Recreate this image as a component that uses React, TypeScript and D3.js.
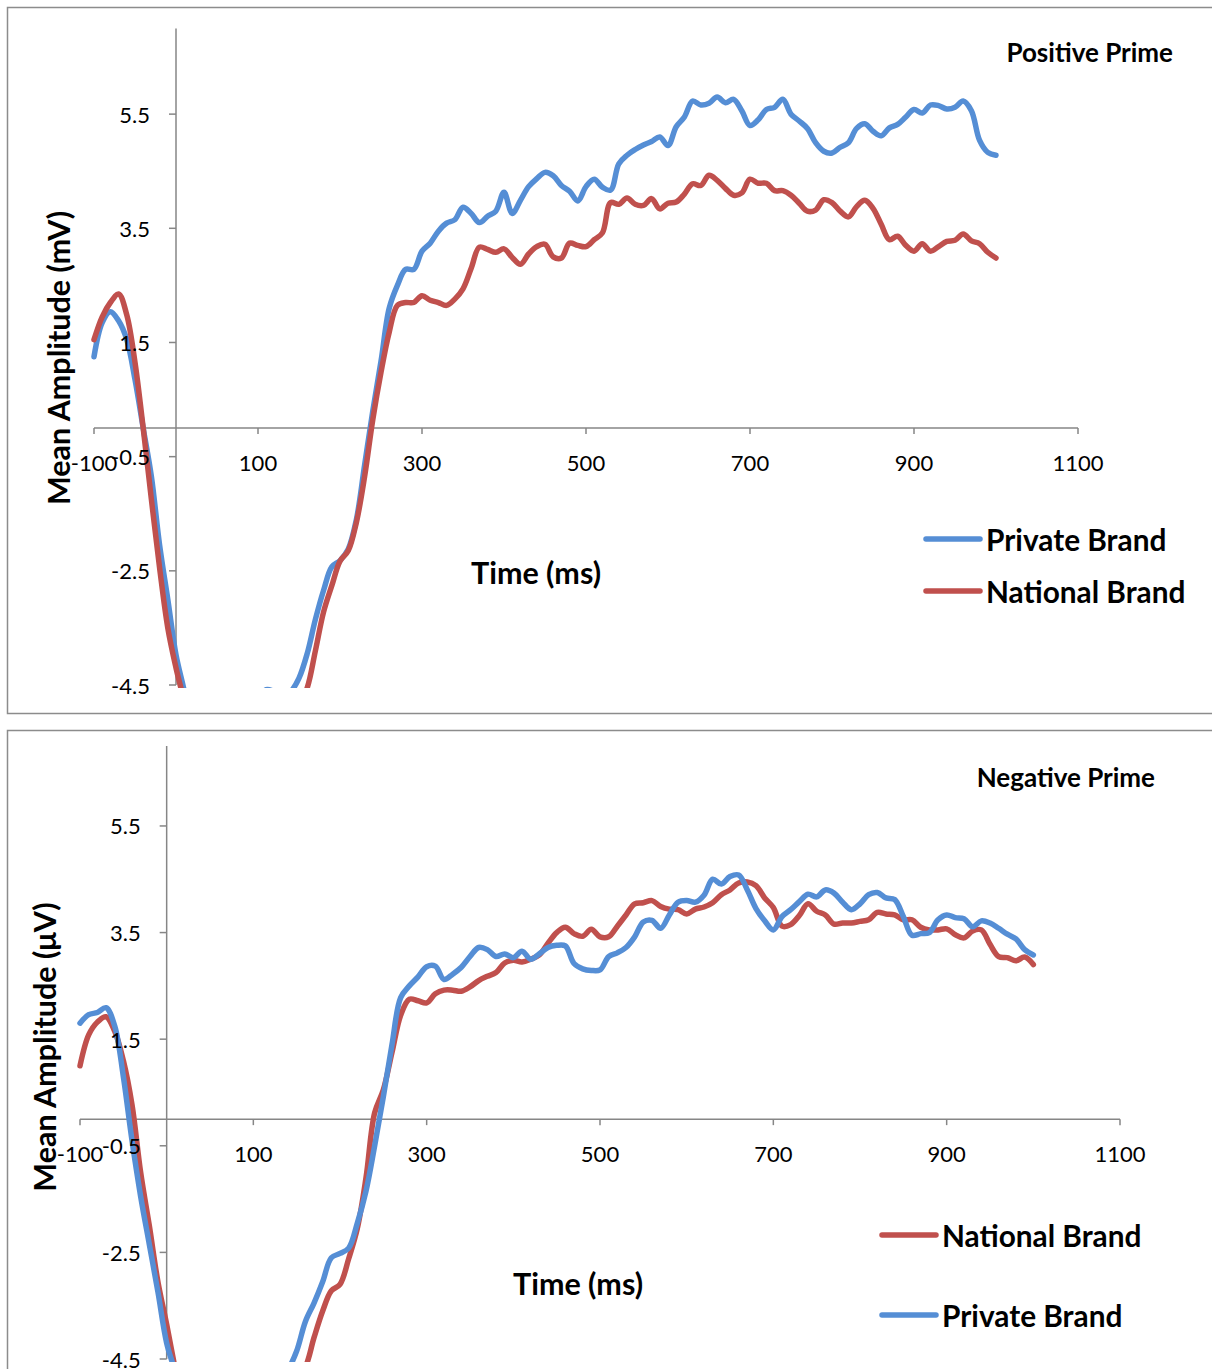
import * as d3 from "d3";

// sample times (ms), one value every 10 ms
const times = d3.range(-100, 1001, 10);

// Positive prime
const posPrivate = [
  1.25, 1.85, 2.04, 1.88, 1.55, 0.85, 0.0, -0.85, -2.05, -3.0,
  -3.97, -4.6, -5.3, -5.9, -6.2, -6.3, -6.1, -5.7, -5.3, -5.0,
  -4.8, -4.58, -4.62, -4.75, -4.62, -4.38, -3.95, -3.35, -2.84, -2.43,
  -2.32, -2.12, -1.6, -0.65, 0.3, 1.17, 2.1, 2.5, 2.78, 2.78,
  3.1, 3.24, 3.45, 3.59, 3.65, 3.87, 3.76, 3.6, 3.71, 3.8,
  4.13, 3.76, 3.99, 4.23, 4.37, 4.48, 4.42, 4.25, 4.15, 3.98,
  4.23, 4.36, 4.22, 4.17, 4.63, 4.78, 4.88, 4.96, 5.02, 5.1,
  4.95, 5.28, 5.45, 5.73, 5.66, 5.69, 5.8, 5.7, 5.76, 5.56,
  5.3, 5.4, 5.58, 5.62, 5.76, 5.5, 5.38, 5.25, 5.0, 4.85,
  4.82, 4.92, 5.0, 5.25, 5.33, 5.2, 5.12, 5.26, 5.32, 5.45,
  5.58, 5.52, 5.66, 5.65, 5.59, 5.62, 5.73, 5.56, 5.04, 4.83,
  4.78,
];
const posNational = [
  1.55, 1.95, 2.2, 2.35, 1.98, 1.15, 0.0, -1.25, -2.45, -3.5,
  -4.2, -4.8, -5.6, -6.2, -6.6, -6.8, -6.7, -6.4, -6.0, -5.7,
  -5.5, -5.3, -5.2, -5.1, -5.0, -4.85, -4.55, -3.9, -3.22, -2.76,
  -2.33, -2.15, -1.65, -0.85, 0.15, 0.98, 1.68, 2.15, 2.2, 2.2,
  2.32, 2.24, 2.2, 2.15, 2.26, 2.44, 2.8, 3.17, 3.13, 3.08,
  3.14, 2.99, 2.87, 3.05, 3.18, 3.22, 3.0, 2.98, 3.24, 3.2,
  3.18, 3.3, 3.42, 3.95, 3.92, 4.03, 3.92, 3.9, 4.02, 3.84,
  3.94, 3.96, 4.1, 4.28, 4.25, 4.43, 4.34, 4.2, 4.08, 4.12,
  4.36, 4.29, 4.29, 4.16, 4.16, 4.08, 3.94, 3.8, 3.82, 4.0,
  3.95, 3.8, 3.7, 3.88, 3.99, 3.85, 3.57, 3.3, 3.36, 3.2,
  3.1, 3.23, 3.1, 3.18, 3.27, 3.29, 3.4, 3.28, 3.23, 3.08,
  2.98,
];

// Negative prime
const negNational = [
  1.0, 1.58, 1.82, 1.92, 1.65, 1.1, 0.27, -1.0, -2.0, -3.06,
  -3.85, -4.7, -5.5, -6.0, -6.4, -6.6, -6.6, -6.4, -6.1, -5.8,
  -5.6, -5.4, -5.3, -5.1, -5.0, -4.85, -4.65, -4.1, -3.6, -3.22,
  -3.1, -2.62, -2.05, -1.1, 0.12, 0.55, 1.25, 1.95, 2.25, 2.22,
  2.18, 2.35, 2.42, 2.42, 2.4, 2.48, 2.6, 2.68, 2.75, 2.93,
  2.98, 2.95, 3.0, 3.08, 3.3, 3.5, 3.6, 3.48, 3.43, 3.56,
  3.42, 3.42, 3.62, 3.83, 4.04, 4.06, 4.1, 3.99, 3.94, 3.93,
  3.85, 3.94, 3.98, 4.06, 4.21, 4.3, 4.43, 4.45, 4.38, 4.15,
  3.97, 3.62, 3.65, 3.82, 4.04, 3.9, 3.83, 3.66, 3.68, 3.68,
  3.71, 3.74, 3.88, 3.85, 3.83, 3.74, 3.74, 3.6, 3.55, 3.55,
  3.57, 3.46, 3.4, 3.53, 3.55, 3.28, 3.05, 3.03, 2.97, 3.04,
  2.9,
];
const negPrivate = [
  1.8, 1.96, 2.0, 2.09, 1.75, 0.8, -0.4, -1.45, -2.35, -3.25,
  -4.2, -4.75, -5.4, -5.9, -6.3, -6.5, -6.5, -6.3, -6.0, -5.7,
  -5.4, -5.2, -5.0, -4.9, -4.7, -4.35, -3.8, -3.45, -3.05, -2.6,
  -2.52, -2.42, -1.95, -1.35, -0.5, 0.42, 1.4, 2.28, 2.5, 2.67,
  2.86, 2.87, 2.62, 2.72, 2.85, 3.05, 3.22, 3.18, 3.05, 3.1,
  3.03, 3.15, 3.0, 3.1, 3.22, 3.26, 3.25, 2.92, 2.82, 2.79,
  2.8, 3.05, 3.12, 3.22, 3.42, 3.7, 3.73, 3.58, 3.83, 4.07,
  4.1, 4.07, 4.2, 4.5, 4.41, 4.55, 4.58, 4.3, 3.95, 3.72,
  3.55, 3.8, 3.93, 4.08, 4.22, 4.17, 4.3, 4.24, 4.07, 3.93,
  4.04, 4.21, 4.25, 4.15, 4.12, 3.8, 3.45, 3.48, 3.5, 3.74,
  3.83, 3.78, 3.76, 3.61, 3.72, 3.68, 3.58, 3.47, 3.38, 3.18,
  3.08,
];

const xTicks = [-100, 100, 300, 500, 700, 900, 1100];
const yTicks = [-4.5, -2.5, -0.5, 1.5, 3.5, 5.5];

const BLUE = "#558ed5";
const RED = "#c0504d";
const AXIS = "#868686";
const FONT = "Lato, 'DejaVu Sans', sans-serif";

type Series = { name: string; values: number[]; color: string };

type PanelProps = {
  id: string;
  frameTop: number;
  frameBottom: number;
  xRange: [number, number];
  yRange: [number, number];
  title: string;
  titleX: number;
  titleY: number;
  yTitle: string;
  yTitleX: number;
  yTitleY: number;
  xTitleX: number;
  xTitleY: number;
  legendX: number;
  legendY: number[];
  legendOrder: Series[];
  drawOrder: Series[];
};

function Panel(p: PanelProps) {
  const x = d3.scaleLinear().domain([-100, 1100]).range(p.xRange);
  const y = d3.scaleLinear().domain([-4.5, 7]).range(p.yRange);
  const line = d3
    .line<number>()
    .x((_, i) => x(times[i]))
    .y((d) => y(d))
    .curve(d3.curveCatmullRom.alpha(0.5));
  const x0 = x(0);
  const y0 = y(0);

  return (
    <g>
      <rect
        x={7.5}
        y={p.frameTop}
        width={1215}
        height={p.frameBottom - p.frameTop}
        fill="#fff"
        stroke="#8c8c8c"
        strokeWidth={1.5}
      />
      <clipPath id={p.id}>
        <rect
          x={x(-100) - 3}
          y={y(7)}
          width={x(1100) - x(-100) + 6}
          height={y(-4.5) - y(7) + 3}
        />
      </clipPath>

      {/* axis lines and ticks */}
      <line x1={x0} x2={x0} y1={y(7)} y2={y(-4.5)} stroke={AXIS} strokeWidth={1.5} />
      {yTicks.map((t) => (
        <line key={t} x1={x0 - 7} x2={x0} y1={y(t)} y2={y(t)} stroke={AXIS} strokeWidth={1.5} />
      ))}
      <line x1={x(-100)} x2={x(1100)} y1={y0} y2={y0} stroke={AXIS} strokeWidth={1.5} />
      {xTicks.map((t) => (
        <line key={t} x1={x(t)} x2={x(t)} y1={y0} y2={y0 + 6} stroke={AXIS} strokeWidth={1.5} />
      ))}

      {/* series */}
      <g clipPath={`url(#${p.id})`}>
        {p.drawOrder.map((s) => (
          <path
            key={s.name}
            d={line(s.values) || ""}
            fill="none"
            stroke={s.color}
            strokeWidth={5.5}
            strokeLinejoin="round"
            strokeLinecap="round"
          />
        ))}
      </g>

      {/* tick labels sit above the lines */}
      {yTicks.map((t) => (
        <text
          key={t}
          x={x0 - 26}
          y={y(t)}
          textAnchor="end"
          dominantBaseline="central"
          fontSize={22}
          fontFamily={FONT}
          fill="#000"
        >
          {t}
        </text>
      ))}
      {xTicks.map((t) => (
        <text
          key={t}
          x={x(t)}
          y={y0 + 34}
          textAnchor="middle"
          dominantBaseline="central"
          fontSize={22}
          fontFamily={FONT}
          fill="#000"
        >
          {t}
        </text>
      ))}

      {/* titles */}
      <text
        x={p.titleX}
        y={p.titleY}
        textAnchor="end"
        dominantBaseline="central"
        fontSize={26}
        fontWeight="bold"
        fontFamily={FONT}
      >
        {p.title}
      </text>
      <text
        transform={`translate(${p.yTitleX},${p.yTitleY}) rotate(-90)`}
        textAnchor="middle"
        dominantBaseline="central"
        fontSize={30.5}
        fontWeight="bold"
        fontFamily={FONT}
      >
        {p.yTitle}
      </text>
      <text
        x={p.xTitleX}
        y={p.xTitleY}
        textAnchor="middle"
        dominantBaseline="central"
        fontSize={30.5}
        fontWeight="bold"
        fontFamily={FONT}
      >
        Time (ms)
      </text>

      {/* legend */}
      {p.legendOrder.map((s, i) => (
        <g key={s.name}>
          <line
            x1={p.legendX}
            x2={p.legendX + 54}
            y1={p.legendY[i]}
            y2={p.legendY[i]}
            stroke={s.color}
            strokeWidth={5.5}
            strokeLinecap="round"
          />
          <text
            x={p.legendX + 60}
            y={p.legendY[i]}
            dominantBaseline="central"
            fontSize={29.8}
            fontWeight="bold"
            fontFamily={FONT}
          >
            {s.name}
          </text>
        </g>
      ))}
    </g>
  );
}

export default function App() {
  const pPriv = { name: "Private Brand", values: posPrivate, color: BLUE };
  const pNat = { name: "National Brand", values: posNational, color: RED };
  const nPriv = { name: "Private Brand", values: negPrivate, color: BLUE };
  const nNat = { name: "National Brand", values: negNational, color: RED };

  return (
    <svg
      width={1212}
      height={1369}
      style={{ position: "absolute", left: 0, top: 0, background: "#fff" }}
    >
      <Panel
        id="clipTop"
        frameTop={7.5}
        frameBottom={713.5}
        xRange={[94, 1078]}
        yRange={[685, 28.5]}
        title="Positive Prime"
        titleX={1173}
        titleY={52}
        yTitle="Mean Amplitude (mV)"
        yTitleX={58}
        yTitleY={358}
        xTitleX={536}
        xTitleY={572}
        legendX={926}
        legendY={[539, 591]}
        legendOrder={[pPriv, pNat]}
        drawOrder={[pPriv, pNat]}
      />
      <Panel
        id="clipBottom"
        frameTop={730.5}
        frameBottom={1390}
        xRange={[80, 1120]}
        yRange={[1359, 746]}
        title="Negative Prime"
        titleX={1155}
        titleY={777}
        yTitle="Mean Amplitude (μV)"
        yTitleX={44}
        yTitleY={1047}
        xTitleX={578}
        xTitleY={1283}
        legendX={882}
        legendY={[1235, 1315]}
        legendOrder={[nNat, nPriv]}
        drawOrder={[nNat, nPriv]}
      />
    </svg>
  );
}
